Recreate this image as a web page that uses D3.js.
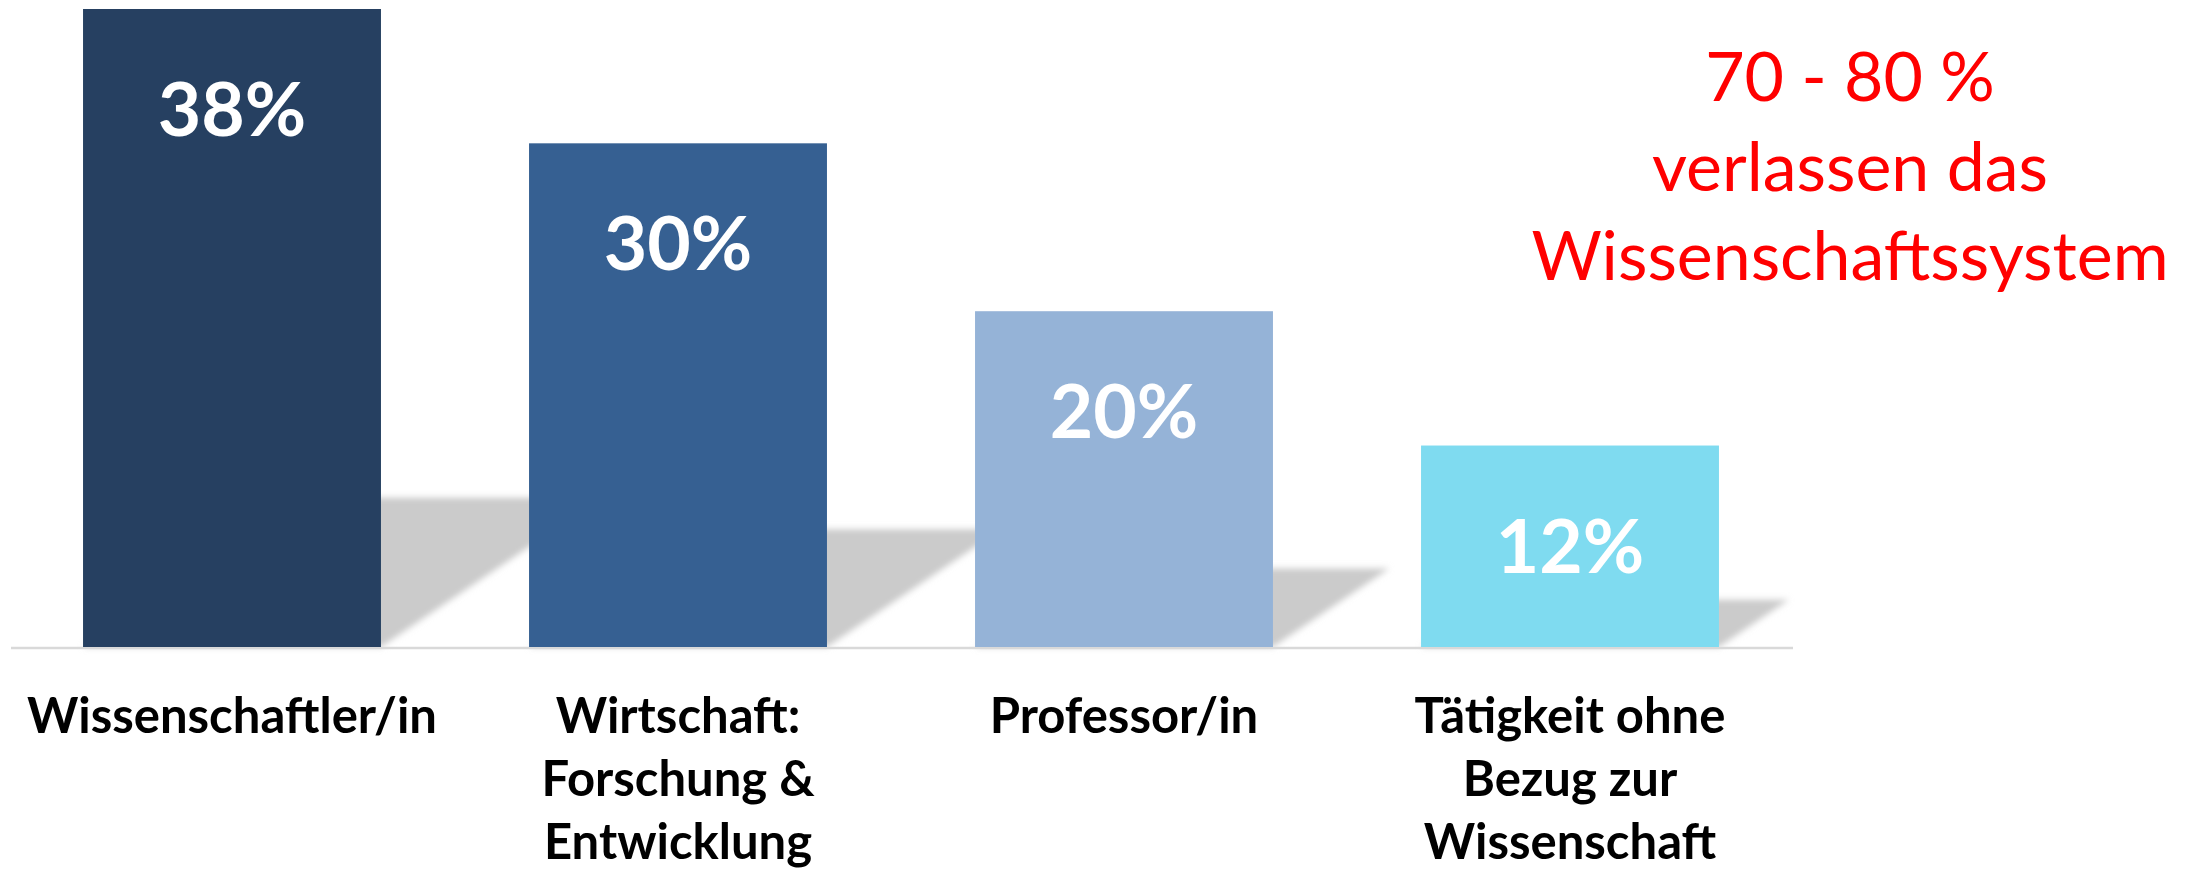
<!DOCTYPE html>
<html>
<head>
<meta charset="utf-8">
<script src="https://cdn.jsdelivr.net/npm/d3@7"></script>
<style>
  html, body { margin: 0; padding: 0; background: #ffffff; }
  svg { display: block; }
</style>
</head>
<body>
<svg id="chart" width="2197" height="870"></svg>
<script>
// ---- data ----
const categories = [
  ["Wissenschaftler/in"],
  ["Wirtschaft:", "Forschung &", "Entwicklung"],
  ["Professor/in"],
  ["Tätigkeit ohne", "Bezug zur", "Wissenschaft"]
];
const categoryKeys = ["Wissenschaftler/in", "Wirtschaft", "Professor/in", "Tätigkeit"];
const values = [38, 30, 20, 12];
const valueLabels = ["38%", "30%", "20%", "12%"];
const barColors = ["#264061", "#366092", "#95b3d7", "#7fdbf0"];
const noteLines = ["70 - 80 %", "verlassen das", "Wissenschaftssystem"];

// ---- layout ----
const W = 2197, H = 870;
const baseY = 647;
const svg = d3.select("#chart");

const x = d3.scaleBand()
  .domain(categoryKeys)
  .range([9, 1793])
  .paddingInner(0.332)
  .paddingOuter(0.166);

const y = d3.scaleLinear()
  .domain([0, 38])
  .range([baseY, 9]);

// shadow filter
const defs = svg.append("defs");
const f = defs.append("filter").attr("id", "blur")
  .attr("x", "-20%").attr("y", "-20%").attr("width", "140%").attr("height", "140%");
f.append("feGaussianBlur").attr("stdDeviation", 3);

const shadowFrac = 0.234, skew = 1.48;
const data = values.map((v, i) => ({ key: categoryKeys[i], v, i }));

// shadows
svg.append("g").selectAll("path").data(data).join("path")
  .attr("d", d => {
    const x0 = x(d.key), x1 = x0 + x.bandwidth();
    const h = (baseY - y(d.v)) * shadowFrac;
    const dx = h * skew;
    return `M${x0},${baseY}L${x1},${baseY}L${x1 + dx},${baseY - h}L${x0 + dx},${baseY - h}Z`;
  })
  .attr("fill", "#cbcbcb")
  .attr("filter", "url(#blur)");

// axis line
svg.append("line")
  .attr("x1", 11).attr("x2", 1793)
  .attr("y1", baseY + 1).attr("y2", baseY + 1)
  .attr("stroke", "#d9d9d9").attr("stroke-width", 2.5);

// bars
svg.append("g").selectAll("rect").data(data).join("rect")
  .attr("x", d => x(d.key))
  .attr("y", d => y(d.v))
  .attr("width", x.bandwidth())
  .attr("height", d => baseY - y(d.v))
  .attr("fill", (d, i) => barColors[i]);

// value labels
svg.append("g").selectAll("text").data(data).join("text")
  .attr("x", d => x(d.key) + x.bandwidth() / 2)
  .attr("y", d => y(d.v) + 127)
  .attr("text-anchor", "middle")
  .attr("fill", "#ffffff")
  .attr("font-family", "Lato, 'Open Sans', sans-serif")
  .attr("font-weight", "bold")
  .attr("font-size", 75)
  .text((d, i) => valueLabels[i]);

// category labels
const cg = svg.append("g");
data.forEach((d, i) => {
  const t = cg.append("text")
    .attr("text-anchor", "middle")
    .attr("fill", "#000000")
    .attr("font-family", "Lato, 'Open Sans', sans-serif")
    .attr("font-weight", "bold")
    .attr("font-size", 49);
  categories[i].forEach((line, j) => {
    t.append("tspan")
      .attr("x", x(d.key) + x.bandwidth() / 2)
      .attr("y", 733 + j * 63)
      .text(line);
  });
});

// red note
const nt = svg.append("text")
  .attr("text-anchor", "middle")
  .attr("fill", "#ff0000")
  .attr("font-family", "Lato, 'Open Sans', sans-serif")
  .attr("font-size", 68);
noteLines.forEach((line, j) => {
  nt.append("tspan").attr("x", 1850).attr("y", 101 + j * 89.5).text(line);
});
</script>
</body>
</html>
